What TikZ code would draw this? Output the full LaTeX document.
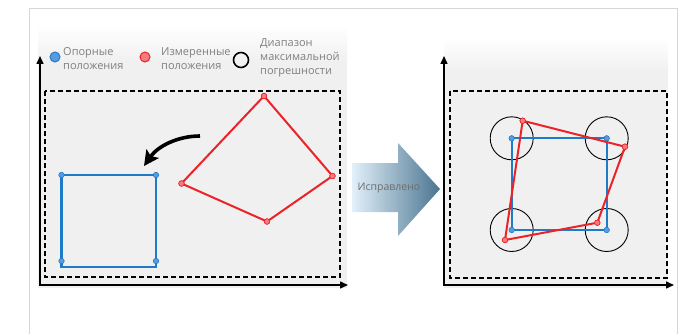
\documentclass[tikz,border=0pt]{standalone}
\usepackage{fontspec}
\setmainfont{Open Sans}
\usetikzlibrary{arrows.meta}
\definecolor{framegray}{HTML}{D6D6D6}
\definecolor{zonegray}{HTML}{F0F0F0}
\definecolor{textgray}{HTML}{808080}
\definecolor{refblue}{HTML}{1F7BC8}
\definecolor{refdotfill}{HTML}{5A9BE0}
\definecolor{measred}{HTML}{EC2229}
\definecolor{measdotfill}{HTML}{F47C7C}
\definecolor{arrowlight}{HTML}{E2F0FA}
\definecolor{arrowdark}{HTML}{4A7590}

\tikzset{
    axes/.style={line width=1.5pt, {Triangle[length=8pt,width=7pt]}-{Triangle[length=8pt,width=7pt]}},
    zone/.style={line width=1.4pt, dash pattern=on 5pt off 3pt, fill=zonegray},
    refline/.style={refblue, line width=2.2pt},
    measline/.style={measred, line width=2pt, line join=round},
    refdot/.style={circle, fill=refdotfill, draw=refblue, line width=0.6pt, inner sep=0pt, minimum size=5.5pt},
    measdot/.style={circle, fill=measdotfill, draw=measred, line width=0.6pt, inner sep=0pt, minimum size=5.5pt},
    tolcircle/.style={circle, draw, line width=0.9pt, inner sep=0pt, minimum size=43pt},
    legend/.style={font=\fontsize{11}{14}\selectfont, text=textgray, align=left, anchor=west, inner sep=0pt},
}

\begin{document}
\begin{tikzpicture}[x=1pt, y=-1pt]
%\draw [help lines] (0,0) grid [step=50] (700,334);
    \useasboundingbox (0,0) rectangle (700,334);
    \draw [framegray, line width=1.5pt] (29.5,334) -- (29.5,8.5) -- (677.5,8.5) -- (677.5,334);

    % left panel
    \shade [top color=white, bottom color=zonegray] (38,25) rectangle (347,62);
    \fill [zonegray] (38,62) rectangle (347,288);
    \draw [zone] (45,91) rectangle (340,277);
    \coordinate (lo) at (40,285);
    \coordinate (ly) at (40,56);
    \coordinate (lx) at (348,285);
    \draw [axes] (ly) -- (lo) -- (lx);

    \node [refdot, minimum size=10pt, line width=1pt] (kref) at (55,57) {};
    \node [legend] (tref) at (63,58.5) {Опорные\\положения};
    \node [measdot, minimum size=10pt, line width=1pt] (kmeas) at (145,57) {};
    \node [legend] (tmeas) at (161,58.5) {Измеренные\\положения};
    \node [tolcircle, minimum size=15pt, line width=1.6pt] (ktol) at (241,60) {};
    \node [legend] (ttol) at (260,58) {Диапазон\\максимальной\\погрешности};

    \coordinate (s1) at (61.5,175);
    \coordinate (s2) at (156,175);
    \coordinate (s3) at (156,267);
    \coordinate (s4) at (61.5,267);
    \draw [refline] (s1) -- (s2) -- (s3) -- (s4) -- cycle;
    \foreach \p [count=\i] in {(61.5,175),(156,175),(156,261),(61.5,261)}
        \node [refdot] (sd\i) at \p {};

    \node [measdot] (q1) at (264,96) {};
    \node [measdot] (q2) at (332.5,176) {};
    \node [measdot] (q3) at (267,221.5) {};
    \node [measdot] (q4) at (181.5,183.5) {};
    \draw [measline] (q1.center) -- (q2.center) -- (q3.center) -- (q4.center) -- cycle;
    \foreach \i in {1,...,4} \node [measdot] at (q\i) {};

    \coordinate (mstart) at (200,136);
    \coordinate (mend) at (144,166);
    \draw [line width=3.6pt, -{Stealth[length=15pt,width=15pt,inset=3pt]}]
        (mstart) .. controls (178,136) and (158,146) .. (mend);

    % correction arrow
    \shade [left color=arrowlight, right color=arrowdark]
        (352,163) -- (398,163) -- (398,143) -- (440,189) -- (398,236) -- (398,212) -- (352,212) -- cycle;
    \node [font=\fontsize{10.5}{12}\selectfont, text=textgray!85!black] (fix) at (389,188) {Исправлено};

    % right panel
    \shade [top color=white, bottom color=zonegray] (444,38) rectangle (668,72);
    \fill [zonegray] (444,72) rectangle (668,288);
    \draw [zone] (450,91) rectangle (667,278);
    \coordinate (ro) at (444,285);
    \coordinate (ry) at (444,56);
    \coordinate (rx) at (674,285);
    \draw [axes] (ry) -- (ro) -- (rx);

    \node [tolcircle] (c1) at (511.7,138.3) {};
    \node [tolcircle] (c2) at (606.7,138.3) {};
    \node [tolcircle] (c3) at (606.7,230) {};
    \node [tolcircle] (c4) at (511.7,230) {};
    \draw [refline] (c1.center) -- (c2.center) -- (c3.center) -- (c4.center) -- cycle;
    \foreach \i in {1,...,4} \node [refdot] at (c\i) {};

    \node [measdot] (r1) at (522.7,120.7) {};
    \node [measdot] (r2) at (625,146.7) {};
    \node [measdot] (r3) at (597.3,222.7) {};
    \node [measdot] (r4) at (505,240) {};
    \draw [measline] (r1.center) -- (r2.center) -- (r3.center) -- (r4.center) -- cycle;
    \foreach \i in {1,...,4} \node [measdot] at (r\i) {};
\end{tikzpicture}
\end{document}
